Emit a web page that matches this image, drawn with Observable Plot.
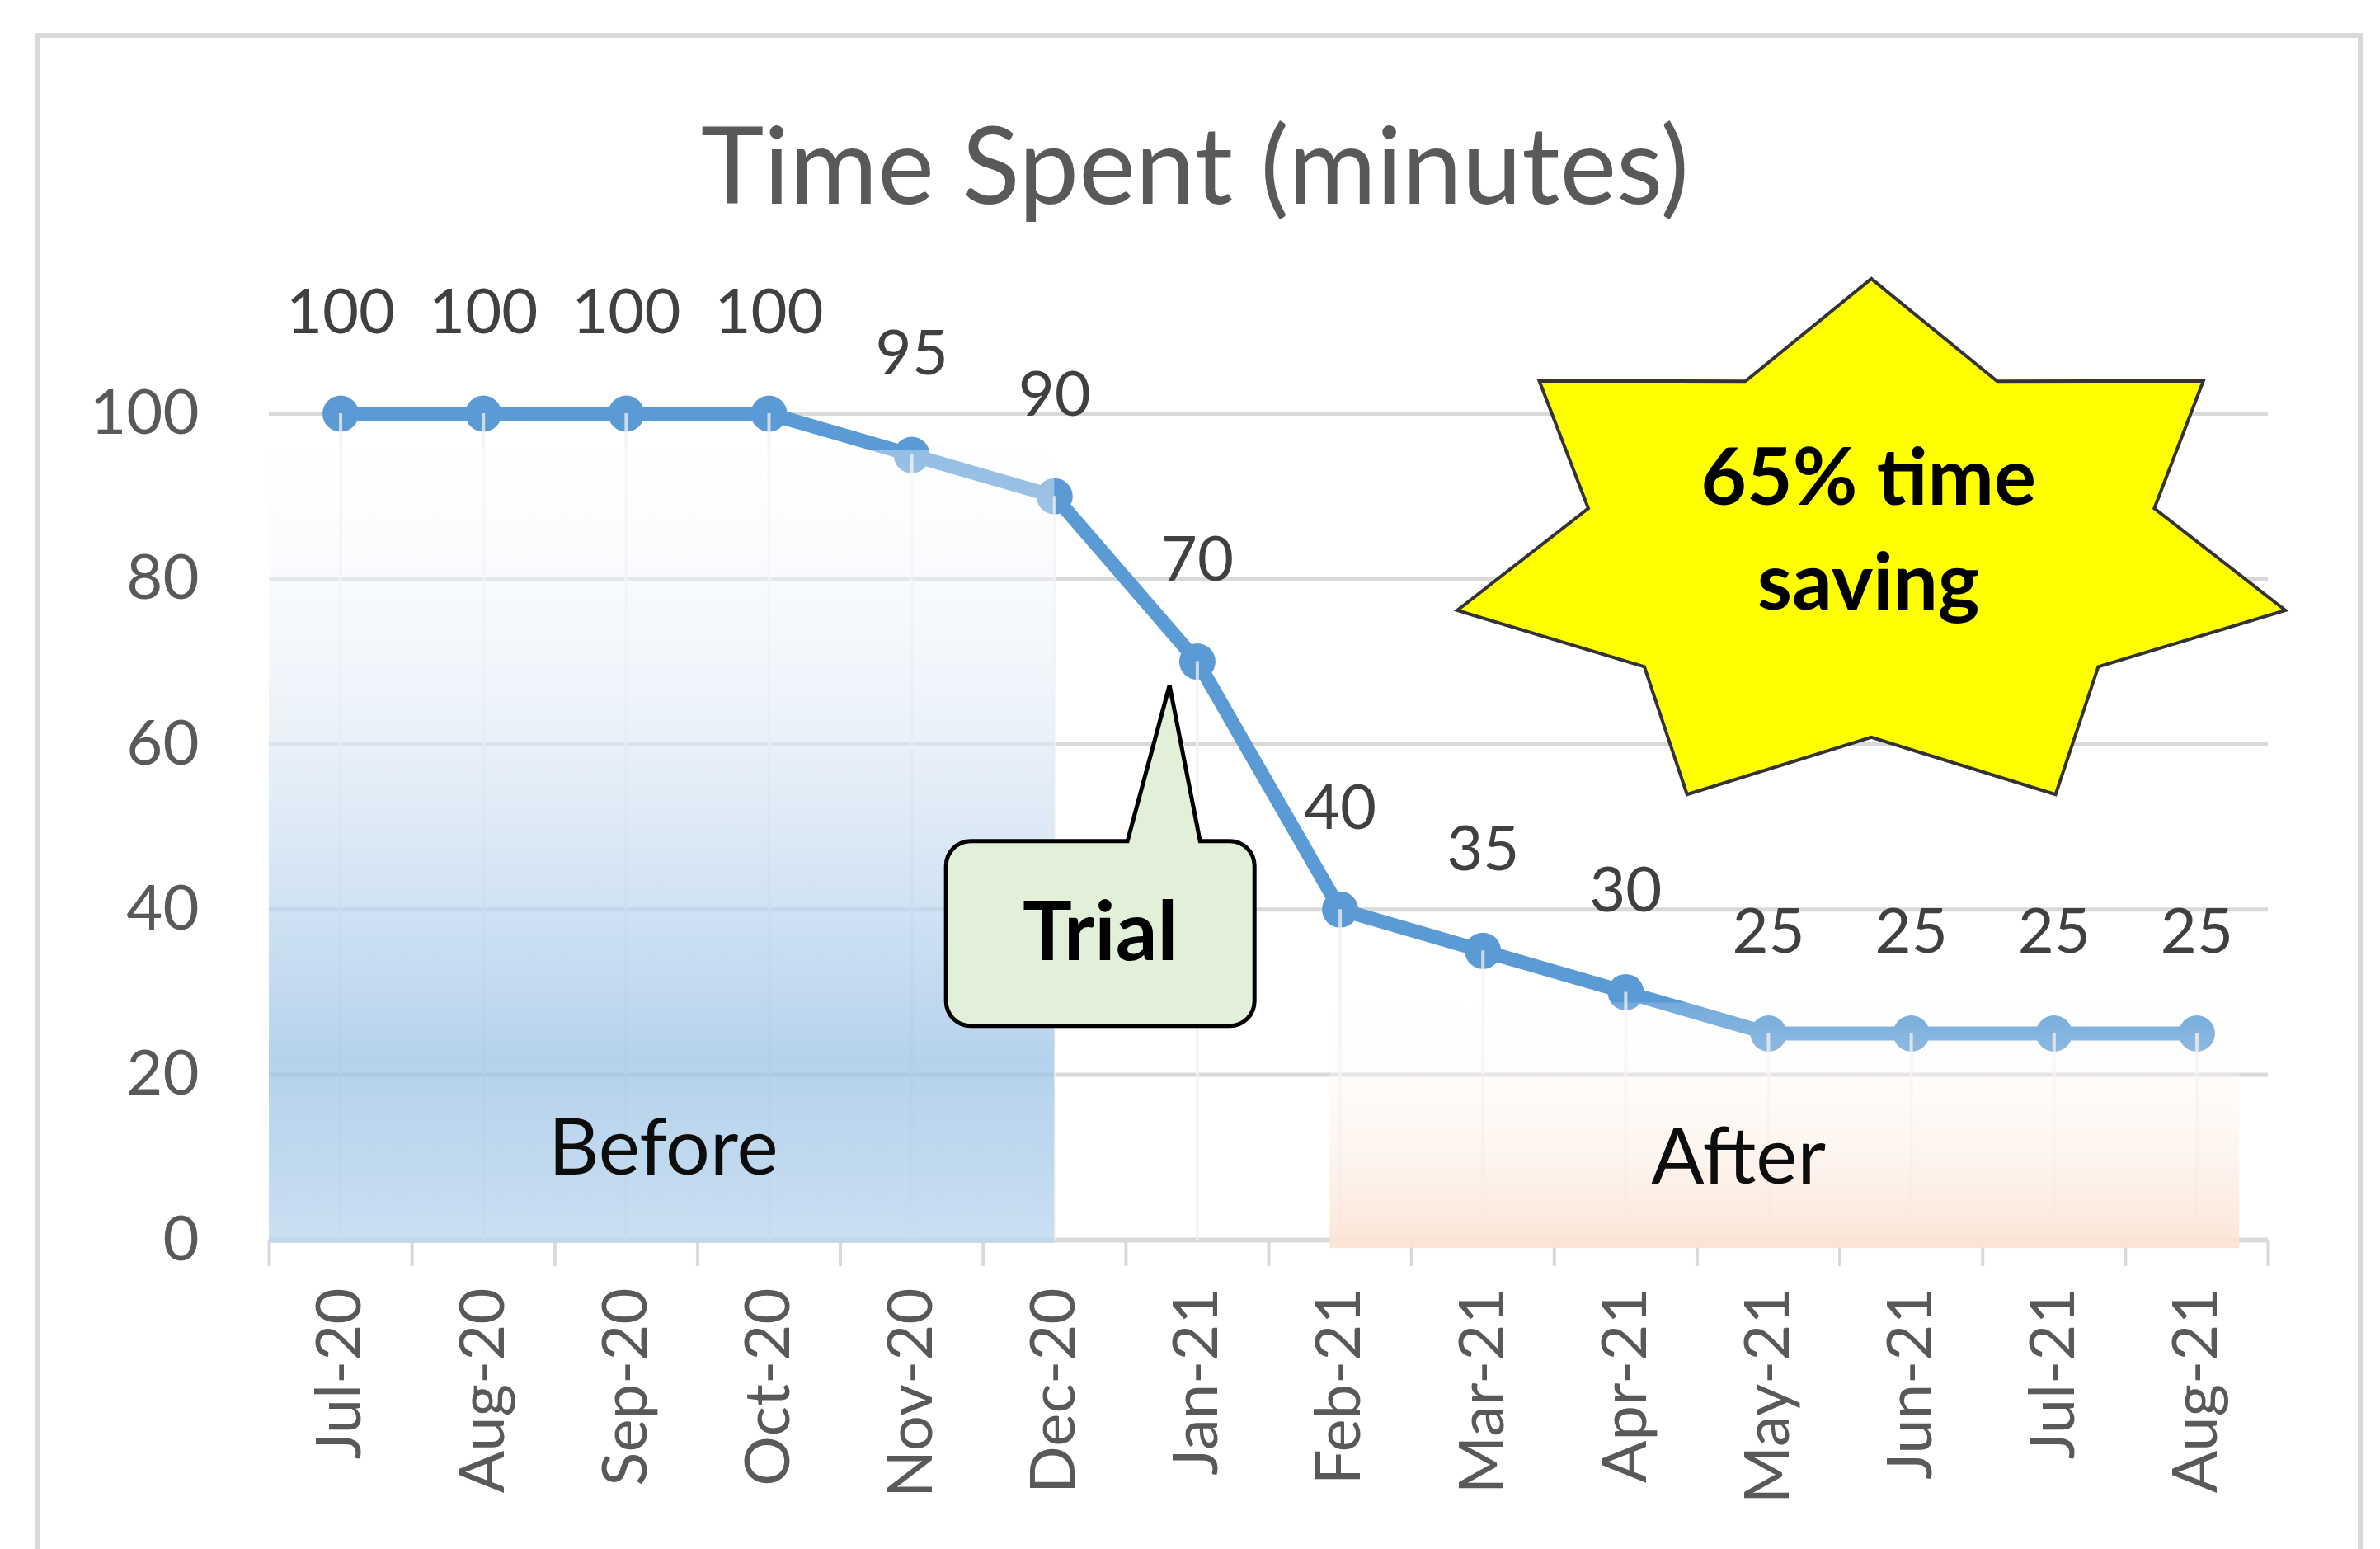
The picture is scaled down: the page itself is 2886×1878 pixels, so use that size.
<!DOCTYPE html>
<html><head><meta charset="utf-8">
<script src="https://cdn.jsdelivr.net/npm/d3@7"></script>
<script src="https://cdn.jsdelivr.net/npm/@observablehq/plot@0.6"></script>
<style>
html,body{margin:0;padding:0;background:#fff;width:2886px;height:1878px;overflow:hidden;position:relative}
#frame{position:absolute;left:43px;top:40px;width:2810px;height:1900px;border:6px solid #d9d9d9;box-sizing:content-box}
#title{position:absolute;left:0;top:132px;width:2898px;text-align:center;font-family:Lato;font-size:130px;line-height:1;color:#595959;white-space:nowrap}
#chart{position:absolute;left:0;top:0}
</style></head>
<body>
<div id="frame"></div>
<div id="title">Time Spent (minutes)</div>
<div id="chart"></div>
<script>
// ---- data ----
const months = ["Jul-20","Aug-20","Sep-20","Oct-20","Nov-20","Dec-20","Jan-21","Feb-21","Mar-21","Apr-21","May-21","Jun-21","Jul-21","Aug-21"];
const minutes = [100,100,100,100,95,90,70,40,35,30,25,25,25,25];
const yTicks = [0,20,40,60,80,100];

// annotation regions (in data units: x = month index, y = minutes)
const phaseNames = ["Before","After"];
const phaseX1 = [-0.5, 6.93];
const phaseX2 = [5, 13.3];
const phaseY1 = [-0.4, -1];
const phaseY2 = [95.6, 28.7];
const phaseLabelX = [2.26, 9.79];
const phaseLabelY = [11, 9.9];

const calloutText = "Trial";
const calloutAt = {x: 5.32, y: 37.1};
const starText = "65% time\nsaving";
const starAt = {x: 10.72, y: 83.5};
const starTextAt = {x: 10.7, y: 86.7};

const rows = months.map((m, i) => ({i, month: m, v: minutes[i]}));
const phases = phaseNames.map((n, k) => ({name: n, x1: phaseX1[k], x2: phaseX2[k], y1: phaseY1[k], y2: phaseY2[k], lx: phaseLabelX[k], ly: phaseLabelY[k]}));
const bounds = d3.range(months.length + 1).map(k => k - 0.5);

// custom symbols
const calloutSymbol = {
  draw(ctx) {
    const w = 187, h = 112, r = 30;
    ctx.moveTo(-w + r, -h);
    ctx.lineTo(33, -h);
    ctx.lineTo(84, -301);
    ctx.lineTo(121, -h);
    ctx.arcTo(w, -h, w, -h + r, r);
    ctx.lineTo(w, h - r);
    ctx.arcTo(w, h, w - r, h, r);
    ctx.lineTo(-w + r, h);
    ctx.arcTo(-w, h, -w, h - r, r);
    ctx.lineTo(-w, -h + r);
    ctx.arcTo(-w, -h, -w + r, -h, r);
    ctx.closePath();
  }
};
const starSymbol = {
  draw(ctx) {
    const Rx = 515, Ry = 329, rx = 352, ry = 227, n = 7;
    for (let k = 0; k < 2 * n; k++) {
      const a = -Math.PI / 2 + k * Math.PI / n;
      const X = (k % 2 ? rx : Rx) * Math.cos(a), Y = (k % 2 ? ry : Ry) * Math.sin(a);
      if (k === 0) ctx.moveTo(X, Y); else ctx.lineTo(X, Y);
    }
    ctx.closePath();
  }
};

const grid = "#d9d9d9";
const fs = 76;

const chart = Plot.plot({
  width: 2886, height: 1878,
  marginLeft: 326, marginRight: 136, marginTop: 501, marginBottom: 375,
  x: {domain: [-0.5, 13.5], label: null},
  y: {domain: [0, 100], label: null},
  style: {fontFamily: "Lato", background: "transparent", color: "#595959", overflow: "visible"},
  marks: [
    Plot.ruleY(yTicks.filter(d => d > 0), {y: d => d, stroke: grid, strokeWidth: 5}),
    Plot.ruleY([0], {stroke: grid, strokeWidth: 6}),
    Plot.ruleX(bounds, {x: d => d, y1: 0, y2: -3.2, stroke: grid, strokeWidth: 4}),
    Plot.line(rows, {x: "i", y: "v", stroke: "#5b9bd5", strokeWidth: 17, strokeLinejoin: "round"}),
    Plot.dot(rows, {x: "i", y: "v", r: 22, fill: "#5b9bd5"}),
    Plot.ruleX(rows, {x: "i", y1: 0, y2: "v", stroke: "#f2f2f2", strokeWidth: 4, strokeOpacity: 0.75}),
    Plot.rect(phases.slice(0,1), {x1: "x1", x2: "x2", y1: "y1", y2: "y2", fill: "#010203"}),
    Plot.rect(phases.slice(1,2), {x1: "x1", x2: "x2", y1: "y1", y2: "y2", fill: "#040506"}),
    Plot.text(phases, {x: "lx", y: "ly", text: "name", fontSize: 95, fill: "#0d0d0d"}),
    Plot.text(rows, {x: "i", y: "v", text: d => String(d.v), dy: -122, fontSize: fs, fill: "#404040"}),
    Plot.dot([calloutAt], {x: "x", y: "y", r: 10, symbol: calloutSymbol, fill: "#e2f0d9", stroke: "#000", strokeWidth: 5}),
    Plot.text([calloutAt], {x: "x", y: "y", text: () => calloutText, fontSize: 100, fontWeight: "bold", fill: "#000"}),
    Plot.dot([starAt], {x: "x", y: "y", r: 10, symbol: starSymbol, fill: "#ffff00", stroke: "#333", strokeWidth: 4}),
    Plot.text([starTextAt], {x: "x", y: "y", text: () => starText, fontSize: 96, fontWeight: "bold", lineHeight: 1.33, fill: "#000"}),
    Plot.axisY({ticks: yTicks, tickSize: 0, tickPadding: 85, fontSize: fs, label: null}),
    Plot.axisX({ticks: d3.range(months.length), tickFormat: i => months[i], tickRotate: -90, tickSize: 0, tickPadding: 58, fontSize: fs, label: null})
  ]
});

const svg = d3.select(chart);
const defs = svg.insert("defs", ":first-child");
const gb = defs.append("linearGradient").attr("id", "gBefore").attr("x1", 0).attr("y1", 0).attr("x2", 0).attr("y2", 1);
gb.append("stop").attr("offset", "0").attr("stop-color", "#ffffff").attr("stop-opacity", 0.35);
gb.append("stop").attr("offset", "0.3").attr("stop-color", "#e6eef8").attr("stop-opacity", 0.6);
gb.append("stop").attr("offset", "0.77").attr("stop-color", "#9dc3e6").attr("stop-opacity", 0.75);
gb.append("stop").attr("offset", "1").attr("stop-color", "#bdd7ee").attr("stop-opacity", 0.8);
const ga = defs.append("linearGradient").attr("id", "gAfter").attr("x1", 0).attr("y1", 0).attr("x2", 0).attr("y2", 1);
ga.append("stop").attr("offset", "0").attr("stop-color", "#ffffff").attr("stop-opacity", 0.15);
ga.append("stop").attr("offset", "0.25").attr("stop-color", "#fefaf7").attr("stop-opacity", 0.35);
ga.append("stop").attr("offset", "1").attr("stop-color", "#fbe3d3").attr("stop-opacity", 0.95);
svg.selectAll('[fill="#010203"]').attr("fill", "url(#gBefore)");
svg.selectAll('[fill="#040506"]').attr("fill", "url(#gAfter)");

document.getElementById("chart").appendChild(chart);
</script>
</body></html>
